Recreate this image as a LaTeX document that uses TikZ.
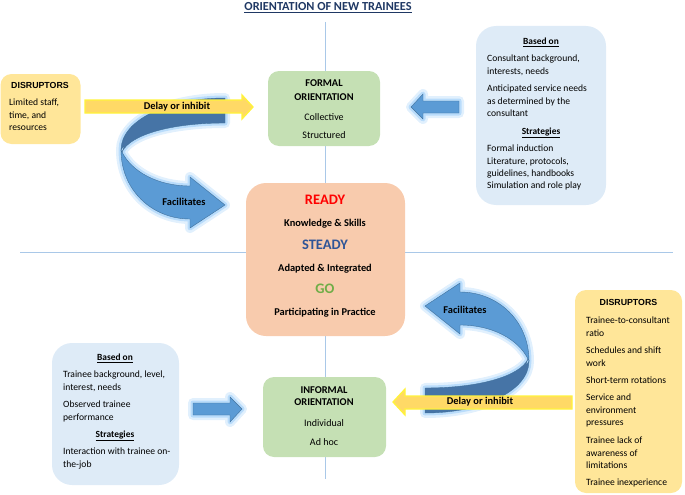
\documentclass[tikz,border=0pt]{standalone}
\usepackage{fontspec}
\setmainfont{Carlito}
\newfontfamily\arialfont{Liberation Sans}
\definecolor{ybox}{HTML}{FFE699}
\definecolor{gbox}{HTML}{C5E0B4}
\definecolor{bbox}{HTML}{DEEBF7}
\definecolor{pbox}{HTML}{F8CBAD}
\definecolor{arrlight}{HTML}{5B9BD5}
\definecolor{arrdark}{HTML}{4674A6}
\definecolor{arredge}{HTML}{41719C}
\definecolor{glowc}{HTML}{A8D4FA}
\definecolor{yarr}{HTML}{FFD966}
\definecolor{yedge}{HTML}{FFF33A}
\definecolor{axisc}{HTML}{A9C8E8}
\definecolor{navy}{HTML}{1F3864}
\definecolor{readyc}{HTML}{FF0000}
\definecolor{steadyc}{HTML}{2F5597}
\definecolor{goc}{HTML}{70AD47}
\begin{document}
\begin{tikzpicture}[x=1pt,y=-1pt,
  boxb/.style={inner sep=0, draw=none},
  yellowbox/.style={boxb, fill=ybox, rounded corners=11pt},
  greenbox/.style={boxb, fill=gbox, rounded corners=11pt},
  bluebox/.style={boxb, fill=bbox, rounded corners=20pt},
  peachbox/.style={boxb, fill=pbox, rounded corners=20pt},
  tx/.style={inner sep=0, font=\fontsize{9.6}{12.3}\selectfont, align=left, anchor=north west},
  lbl/.style={inner sep=0, text height=0.68em, text depth=0.18em},
  reg/.style={lbl, font=\fontsize{10}{11}\selectfont},
  bld/.style={lbl, font=\fontsize{10.4}{11}\selectfont\bfseries},
  big/.style={lbl, font=\fontsize{14.5}{15}\selectfont\bfseries},
  hd/.style={lbl, font=\fontsize{9.4}{11}\selectfont\bfseries},
  dis/.style={lbl, font=\arialfont\fontsize{8.8}{11}\selectfont\bfseries},
  glowa/.style={draw=glowc, line width=10pt, opacity=0.35, line join=round},
  glowb/.style={draw=glowc, line width=5pt, opacity=0.7, line join=round},
  yarrow/.style={fill=yarr, draw=yedge, line width=1.3pt, line join=miter},
  barrow/.style={fill=arrlight, draw=arredge, line width=0.4pt, line join=miter},
  darkpart/.style={fill=arrdark, draw=arredge, line width=0.4pt}
]
\useasboundingbox (0,0) rectangle (685,495);

% axes
\coordinate (vtop) at (325,22);
\coordinate (vbot) at (325,479);
\coordinate (hl) at (20,252);
\coordinate (hr) at (673,252);
\draw[axisc, line width=0.7pt] (vtop) -- (vbot);
\draw[axisc, line width=0.7pt] (hl) -- (hr);

% title
\node[inner sep=0, font=\fontsize{12.3}{14}\selectfont\bfseries, text=navy] (title) at (328,8) {\underline{ORIENTATION OF NEW TRAINEES}};

% boxes
\node[yellowbox, minimum width=80pt, minimum height=70pt] (dis1) at (40.5,109) {};
\node[greenbox, minimum width=112pt, minimum height=75pt] (formal) at (324,108.5) {};
\node[bluebox, minimum width=130pt, minimum height=179pt] (based1) at (541,115.5) {};
\node[peachbox, minimum width=159pt, minimum height=153pt] (ready) at (325.5,259.5) {};
\node[bluebox, minimum width=127pt, minimum height=142pt] (based2) at (115.5,414) {};
\node[greenbox, minimum width=123pt, minimum height=80pt] (informal) at (324.5,417) {};
\node[yellowbox, minimum width=107pt, minimum height=203pt] (dis2) at (628.5,391.5) {};

% curved arrows (top one, and the same rotated)
\foreach \rot/\nm in {0/top,180/bot}{
\begin{scope}[rotate around={\rot:(325,255.5)}]
  \path[glowa] (225,98) .. controls (168,98) and (121,120) .. (121,150)
     .. controls (121,190) and (152,219) .. (190,219) -- (190,228) -- (225,205) -- (190,177) -- (190,186)
     .. controls (158,186) and (132,172) .. (122,152) .. controls (130,135) and (170,123) .. (225,123) -- cycle;
  \path[glowb] (225,98) .. controls (168,98) and (121,120) .. (121,150)
     .. controls (121,190) and (152,219) .. (190,219) -- (190,228) -- (225,205) -- (190,177) -- (190,186)
     .. controls (158,186) and (132,172) .. (122,152) .. controls (130,135) and (170,123) .. (225,123) -- cycle;
  \path[darkpart] (225,98) .. controls (168,98) and (121,120) .. (121,150)
     .. controls (123,146) and (126,144) .. (122,152) .. controls (130,135) and (170,123) .. (225,123) -- cycle;
  \path[barrow] (121,150) .. controls (121,190) and (152,219) .. (190,219) -- (190,228) -- (225,205) -- (190,177) -- (190,186)
     .. controls (158,186) and (132,172) .. (122,152) -- cycle;
\end{scope}
}

% small blue arrows
\path[glowa] (459,101) -- (423,101) -- (423,94) -- (411,107) -- (423,119) -- (423,113) -- (459,113) -- cycle;
\path[glowb] (459,101) -- (423,101) -- (423,94) -- (411,107) -- (423,119) -- (423,113) -- (459,113) -- cycle;
\path[barrow] (459,101) -- (423,101) -- (423,94) -- (411,107) -- (423,119) -- (423,113) -- (459,113) -- cycle;
\path[glowa] (193,403) -- (230,403) -- (230,397) -- (242,409) -- (230,422) -- (230,415) -- (193,415) -- cycle;
\path[glowb] (193,403) -- (230,403) -- (230,397) -- (242,409) -- (230,422) -- (230,415) -- (193,415) -- cycle;
\path[barrow] (193,403) -- (230,403) -- (230,397) -- (242,409) -- (230,422) -- (230,415) -- (193,415) -- cycle;

% yellow arrows
\path[yarrow] (85,100) -- (242,100) -- (242,95) -- (253,107) -- (242,119) -- (242,113) -- (85,113) -- cycle;
\path[yarrow] (572,396) -- (405,396) -- (405,389) -- (393,402) -- (405,415) -- (405,409) -- (572,409) -- cycle;

% arrow labels
\node[bld] (del1) at (177,107) {Delay or inhibit};
\node[bld] (del2) at (480,402) {Delay or inhibit};
\node[bld] (fac1) at (184,203) {Facilitates};
\node[bld] (fac2) at (465,311) {Facilitates};

% left disruptors
\node[dis] (dis1h) at (40,86) {DISRUPTORS};
\node[tx] (dis1t) at (9,99) {Limited staff,\\time, and\\resources};

% formal
\node[bld] (f1) at (324,84) {FORMAL};
\node[bld] (f2) at (324,98) {ORIENTATION};
\node[reg] (f3) at (324,118) {Collective};
\node[reg] (f4) at (324,136) {Structured};

% based on (top right)
\node[hd] (b1h) at (541,42) {\underline{Based on}};
\node[tx] (b1a) at (487,55) {Consultant background,\\interests, needs};
\node[tx] (b1b) at (487,85) {Anticipated service needs\\as determined by the\\consultant};
\node[hd] (b1s) at (541,132) {\underline{Strategies}};
\node[tx] (b1c) at (487,145) {Formal induction\\Literature, protocols,\\guidelines, handbooks\\Simulation and role play};

% ready steady go
\node[big, text=readyc] (r1) at (325,202) {READY};
\node[bld] (r2) at (325,224) {Knowledge \& Skills};
\node[big, text=steadyc] (r3) at (325,247) {STEADY};
\node[bld] (r4) at (325,269) {Adapted \& Integrated};
\node[big, text=goc] (r5) at (325,291) {GO};
\node[bld] (r6) at (325,313) {Participating in Practice};

% based on (bottom left)
\node[hd] (b2h) at (115,358) {\underline{Based on}};
\node[tx] (b2a) at (63,371) {Trainee background, level,\\interest, needs};
\node[tx] (b2b) at (63,401) {Observed trainee\\performance};
\node[hd] (b2s) at (115,435) {\underline{Strategies}};
\node[tx] (b2c) at (63,448) {Interaction with trainee on-\\the-job};

% informal
\node[bld] (i1) at (324,391) {INFORMAL};
\node[bld] (i2) at (324,403) {ORIENTATION};
\node[reg] (i3) at (324,424) {Individual};
\node[reg] (i4) at (324,443) {Ad hoc};

% right disruptors
\node[dis] (dis2h) at (628.5,303) {DISRUPTORS};
\node[tx] (d2a) at (586,317) {Trainee-to-consultant\\ratio};
\node[tx] (d2b) at (586,347) {Schedules and shift\\work};
\node[tx] (d2c) at (586,377) {Short-term rotations};
\node[tx] (d2d) at (586,394) {Service and\\environment\\pressures};
\node[tx] (d2e) at (586,437) {Trainee lack of\\awareness of\\limitations};
\node[tx] (d2f) at (586,479) {Trainee inexperience};
\end{tikzpicture}
\end{document}
